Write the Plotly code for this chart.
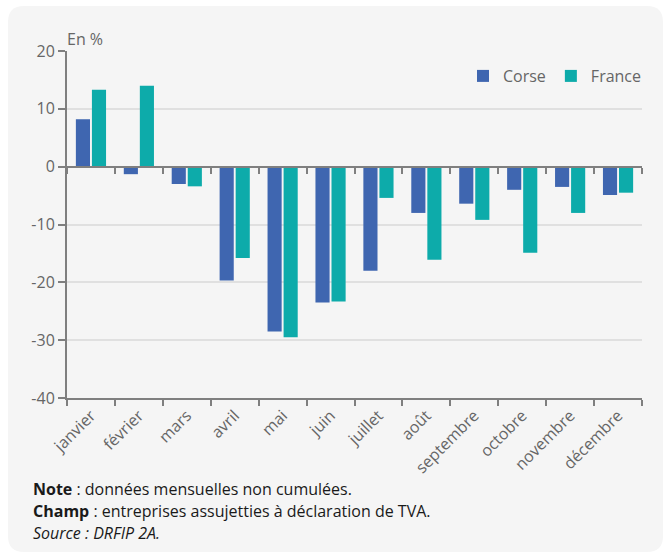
import plotly.graph_objects as go

months = ["janvier", "février", "mars", "avril", "mai", "juin", "juillet",
          "août", "septembre", "octobre", "novembre", "décembre"]
corse = [8.2, -1.3, -3.0, -19.7, -28.5, -23.5, -18.0, -8.0, -6.4, -4.0, -3.5, -4.9]
france = [13.3, 14.0, -3.4, -15.8, -29.5, -23.3, -5.4, -16.1, -9.2, -14.9, -8.0, -4.5]
y_ticks = [20, 10, 0, -10, -20, -30, -40]
y_labels = ["20", "10", "0", "-10", "-20", "-30", "-40"]

W, H = 665, 555
ML, MR, MT, MB = 67, 23, 51, 157
PW = W - ML - MR
PH = H - MT - MB

def px_x(p):
    return (p - ML) / PW

def px_y(p):
    return (H - MB - p) / PH

FONT = "Open Sans"
GRAY = "#666666"
AXIS = "#7f7f7f"
DARK = "#1a1a1a"

fig = go.Figure()
fig.add_trace(go.Bar(name="Corse", x=months, y=corse, marker_color="#3F66B0",
                     marker_line_width=0))
fig.add_trace(go.Bar(name="France", x=months, y=france, marker_color="#0DABAA",
                     marker_line_width=0))
# helper invisible trace for the zero-line axis with ticks
fig.add_trace(go.Scatter(x=months, y=corse, xaxis="x2", mode="markers",
                         marker=dict(opacity=0), showlegend=False, hoverinfo="skip"))

# rounded card background
x0, x1 = px_x(8), px_x(663)
y0, y1 = px_y(552), px_y(6)
rx, ry = 16 / PW, 16 / PH
path = (f"M {x0+rx},{y1} L {x1-rx},{y1} Q {x1},{y1} {x1},{y1-ry} "
        f"L {x1},{y0+ry} Q {x1},{y0} {x1-rx},{y0} L {x0+rx},{y0} "
        f"Q {x0},{y0} {x0},{y0+ry} L {x0},{y1-ry} Q {x0},{y1} {x0+rx},{y1} Z")

fig.update_layout(
    width=W, height=H,
    margin=dict(l=ML, r=MR, t=MT, b=MB),
    paper_bgcolor="white",
    plot_bgcolor="rgba(0,0,0,0)",
    font=dict(family=FONT, size=16, color=GRAY),
    barmode="group", bargap=0.33, bargroupgap=0.12,
    shapes=[dict(type="path", path=path, xref="paper", yref="paper",
                 fillcolor="#F5F5F5", line=dict(width=0), layer="below")],
    legend=dict(orientation="h", x=px_x(647), xanchor="right", y=px_y(76),
                yanchor="middle", bgcolor="rgba(0,0,0,0)",
                font=dict(size=16, color=GRAY), itemwidth=30, traceorder="normal"),
    xaxis=dict(type="category", categoryarray=months, range=[-0.5, 11.5],
               showline=True, linecolor=AXIS, linewidth=2,
               ticks="outside", ticklen=6, tickcolor=AXIS, tickwidth=2,
               tickson="boundaries", tickangle=-45,
               tickfont=dict(size=16, color=GRAY), showgrid=False),
    xaxis2=dict(type="category", categoryarray=months, range=[-0.5, 11.5],
                overlaying="x", anchor="free", position=px_y(166.5),
                showline=True, linecolor=AXIS, linewidth=2,
                ticks="outside", ticklen=6, tickcolor=AXIS, tickwidth=2,
                tickson="boundaries", showticklabels=False, showgrid=False),
    yaxis=dict(range=[-40, 20], tickvals=y_ticks, ticktext=y_labels,
               showline=True, linecolor=AXIS,
               linewidth=2, ticks="outside", ticklen=7, tickcolor=AXIS, tickwidth=2,
               gridcolor="#E0E0E0", gridwidth=1.5, zeroline=False,
               tickfont=dict(size=16, color=GRAY)),
    annotations=[
        dict(text="En %", x=px_x(65), y=px_y(39), xref="paper", yref="paper",
             xanchor="left", yanchor="middle", showarrow=False,
             font=dict(size=16, color=GRAY)),
        dict(text="<b>Note</b> : données mensuelles non cumulées.",
             x=px_x(31), y=px_y(489), xref="paper", yref="paper",
             xanchor="left", yanchor="middle", showarrow=False,
             font=dict(size=16, color=DARK)),
        dict(text="<b>Champ</b> : entreprises assujetties à déclaration de TVA.",
             x=px_x(31), y=px_y(511), xref="paper", yref="paper",
             xanchor="left", yanchor="middle", showarrow=False,
             font=dict(size=16, color=DARK)),
        dict(text="<i>Source : DRFIP 2A.</i>",
             x=px_x(31), y=px_y(533), xref="paper", yref="paper",
             xanchor="left", yanchor="middle", showarrow=False,
             font=dict(size=16, color=DARK)),
    ],
)

fig.write_html("out.html", config={"displayModeBar": False},
               post_script="document.body.style.margin='0px';")
